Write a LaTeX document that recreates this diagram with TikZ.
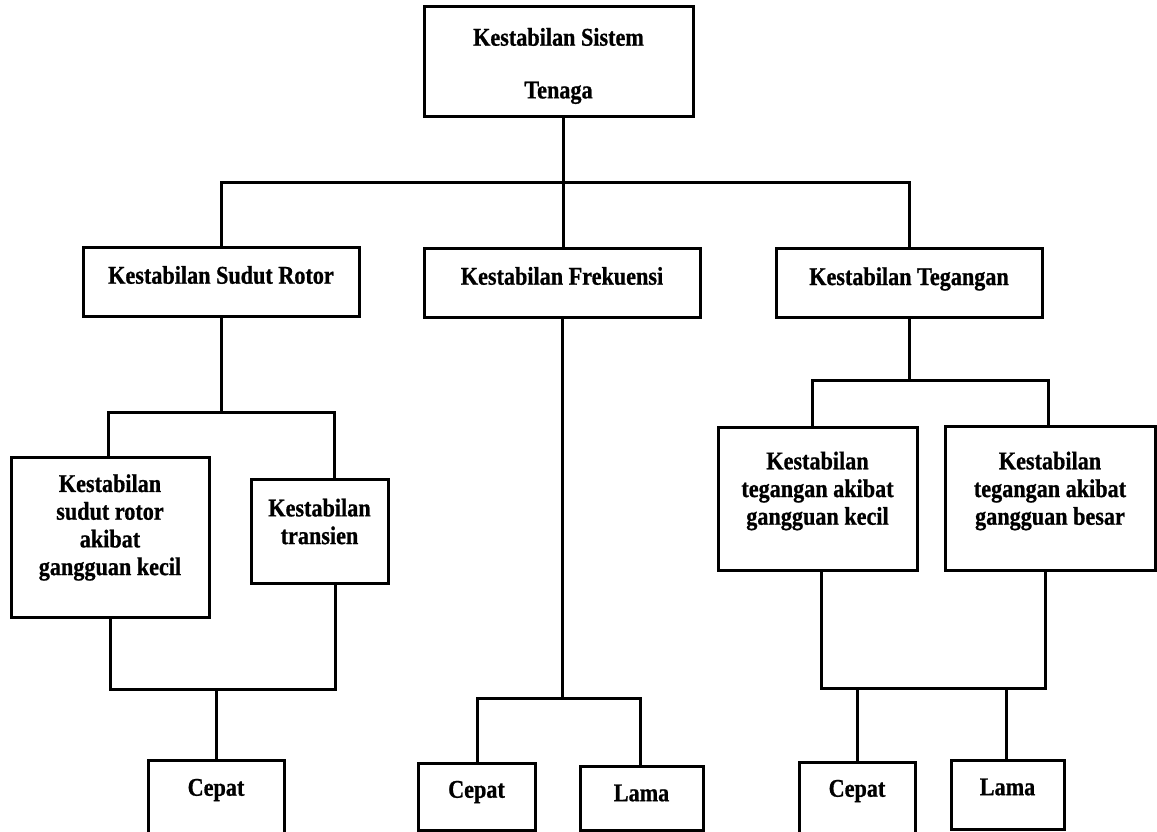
\documentclass[tikz,border=0pt]{standalone}
\usepackage{fontspec}
\setmainfont{Liberation Serif}[FakeStretch=0.87, BoldFeatures={FakeBold=0.8}]
\usetikzlibrary{fit}
\tikzset{
  boxs/.style={draw=black, line width=3pt, inner sep=0pt, rectangle},
  txt/.style={font=\fontsize{25.5}{27.7}\selectfont\bfseries, align=center, inner sep=0pt},
  conn/.style={draw=black, line width=3pt}
}
\newcommand\bx[7]{%
  \node[boxs, fit={(#2,#3) (#4,#5)}] (#1) {};
  \node[txt] (#1-t) at ({(#2+#4)/2},#6) {#7};
}
\begin{document}
\begin{tikzpicture}[x=1pt, y=-1pt]
\useasboundingbox (0,0) rectangle (1157,832);
\fill[white] (0,0) rectangle (1157,832);
% boxes
\bx{top}{424}{7}{693}{117}{66}{Kestabilan Sistem\\[25pt]Tenaga}
\bx{rotor}{83}{247}{359}{316}{275}{Kestabilan Sudut Rotor}
\bx{frek}{424}{248}{700}{317}{276}{Kestabilan Frekuensi}
\bx{teg}{776}{248}{1042}{317}{279}{Kestabilan Tegangan}
\bx{rsk}{11}{457}{209}{617}{527.5}{Kestabilan\\sudut rotor\\akibat\\gangguan kecil}
\bx{rtr}{251}{479}{388}{583}{521.5}{Kestabilan\\transien}
\bx{tgk}{718}{427}{917}{570}{491}{Kestabilan\\tegangan akibat\\gangguan kecil}
\bx{tgb}{945}{426}{1155}{570}{491}{Kestabilan\\tegangan akibat\\gangguan besar}
\bx{c1}{148}{760}{284}{845}{790}{Cepat}
\bx{c2}{418}{763}{535}{830}{792}{Cepat}
\bx{l2}{580}{766}{703}{830}{793}{Lama}
\bx{c3}{799}{762}{915}{845}{791}{Cepat}
\bx{l3}{951}{760}{1064}{829}{787}{Lama}
% bus coordinates
\coordinate (b0) at (563,183);
\coordinate (br1) at (108,412);
\coordinate (br2) at (334,412);
\coordinate (bl1) at (110,689);
\coordinate (bl2) at (335,689);
\coordinate (bc1) at (216,689);
\coordinate (bf) at (562,698);
\coordinate (bf1) at (477,698);
\coordinate (bf2) at (640,698);
\coordinate (bt1) at (812,380);
\coordinate (bt2) at (1048,380);
\coordinate (bt) at (909,380);
\coordinate (bu1) at (821,688);
\coordinate (bu2) at (1045,688);
\coordinate (bu3) at (857,688);
\coordinate (bu4) at (1006,688);
% level 1
\draw[conn] (b0 |- top.south) -- (b0);
\draw[conn] (rotor.north) |- (b0) -| (teg.north);
\draw[conn] (b0) -- (b0 |- frek.north);
% rotor branch
\draw[conn] (rotor.south) -- (rotor.south |- br1);
\draw[conn] (br1 |- rsk.north) -- (br1) -- (br2) -- (br2 |- rtr.north);
\draw[conn] (bl1 |- rsk.south) -- (bl1) -- (bl2) -- (bl2 |- rtr.south);
\draw[conn] (bc1) -- (bc1 |- c1.north);
% frekuensi branch
\draw[conn] (bf |- frek.south) -- (bf);
\draw[conn] (bf1 |- c2.north) -- (bf1) -- (bf2) -- (bf2 |- l2.north);
% tegangan branch
\draw[conn] (bt |- teg.south) -- (bt);
\draw[conn] (bt1 |- tgk.north) -- (bt1) -- (bt2) -- (bt2 |- tgb.north);
\draw[conn] (bu1 |- tgk.south) -- (bu1) -- (bu2) -- (bu2 |- tgb.south);
\draw[conn] (bu3) -- (bu3 |- c3.north);
\draw[conn] (bu4) -- (bu4 |- l3.north);
\end{tikzpicture}
\end{document}
